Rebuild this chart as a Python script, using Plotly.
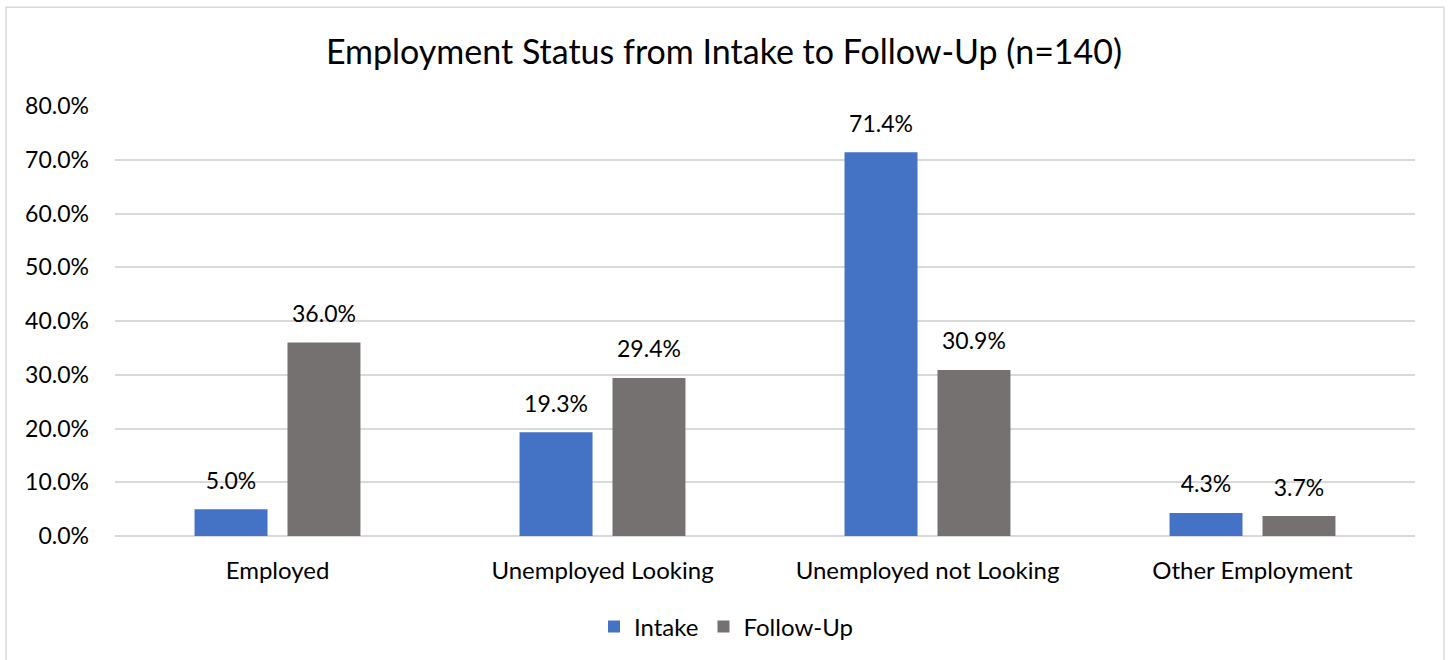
import plotly.graph_objects as go

categories = ["Employed", "Unemployed Looking", "Unemployed not Looking", "Other Employment"]
intake = [5.0, 19.3, 71.4, 4.3]
follow_up = [36.0, 29.4, 30.9, 3.7]
tick_vals = [0, 10, 20, 30, 40, 50, 60, 70, 80]
tick_text = [f"{v:.1f}%" for v in tick_vals]

FONT = "Lato, 'Open Sans', sans-serif"
W, H = 1448, 660
L, R, T, B = 115, 33, 106, 123
pw, ph = W - L - R, H - T - B
series = [("Intake", intake, "#4472C4"), ("Follow-Up", follow_up, "#767171")]
GAP = 0.428

fig = go.Figure()
for name, vals, color in series:
    fig.add_trace(go.Bar(
        name=name, x=categories, y=vals, offsetgroup=name,
        marker=dict(color=color, line=dict(width=0)),
        hovertemplate="%{x}: %{y:.1f}%<extra>" + name + "</extra>",
    ))
for name, vals, color in series:
    fig.add_trace(go.Scatter(
        x=categories, y=vals, offsetgroup=name, showlegend=False,
        mode="markers+text", marker=dict(size=22, opacity=0),
        text=[f"{v:.1f}%" for v in vals], textposition="top center",
        textfont=dict(size=23, color="#000000", family=FONT),
        hoverinfo="skip", cliponaxis=False,
    ))

def px_x(p):
    return (p - L) / pw

def px_y(p):
    return (H - B - p) / ph

fig.update_layout(
    width=W, height=H,
    margin=dict(l=L, r=R, t=T, b=B),
    paper_bgcolor="white", plot_bgcolor="white",
    font=dict(family=FONT, size=23, color="#000000"),
    title=dict(text="Employment Status from Intake to Follow-Up (n=140)",
               x=0.5, xanchor="center", y=1 - 52 / H, yanchor="middle",
               font=dict(size=34, color="#000000", family=FONT)),
    barmode="group", bargap=GAP, bargroupgap=0.215,
    scattermode="group", scattergap=GAP,
    showlegend=True,
    legend=dict(orientation="h", x=px_x(726), xanchor="center",
                y=px_y(627), yanchor="middle",
                font=dict(size=24, color="#000000", family=FONT),
                itemwidth=30, traceorder="normal"),
)
fig.update_yaxes(range=[0, 80], tickvals=tick_vals, ticktext=tick_text,
                 showgrid=True, gridcolor="#D9D9D9", gridwidth=1.5,
                 zeroline=True, zerolinecolor="#D9D9D9", zerolinewidth=1.5,
                 showline=False, ticks="", ticklabelstandoff=25,
                 tickfont=dict(size=23, color="#000000", family=FONT))
fig.update_xaxes(showline=False, ticks="", showgrid=False,
                 tickfont=dict(size=24, color="#000000", family=FONT),
                 ticklabelstandoff=18)

fig.add_shape(type="rect", xref="paper", yref="paper",
              x0=px_x(6), x1=px_x(1444), y0=px_y(668), y1=px_y(7),
              line=dict(color="#D9D9D9", width=1.5), fillcolor="rgba(0,0,0,0)",
              layer="below")

fig.write_html("out.html", config={"displayModeBar": False},
               post_script="document.body.style.margin='0';document.body.style.overflow='hidden';")
